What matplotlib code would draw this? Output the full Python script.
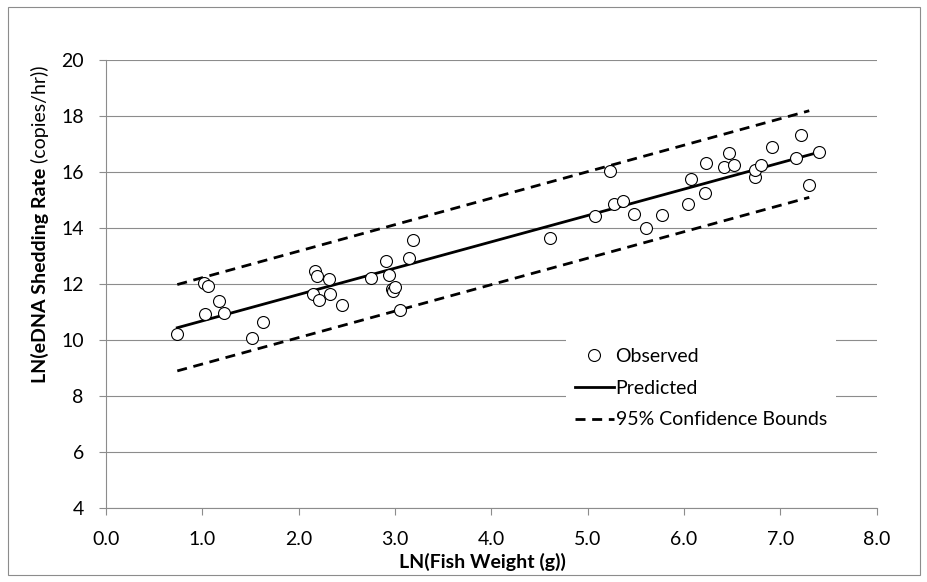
import matplotlib
matplotlib.use("Agg")
import matplotlib.pyplot as plt
from matplotlib.patches import Rectangle

plt.rcParams["font.family"] = ["Lato", "DejaVu Sans"]

# observed fish: ln(weight, g) and ln(eDNA shedding rate, copies/hr)
obs_ln_weight = [0.74, 1.02, 1.06, 1.03, 1.17, 1.22, 1.52, 1.63,
                 2.17, 2.19, 2.31, 2.15, 2.21, 2.33, 2.45, 2.75,
                 2.91, 2.94, 2.97, 2.98, 3.00, 3.05, 3.15, 3.19,
                 4.61, 5.08, 5.23, 5.27, 5.37, 5.48, 5.61, 5.77,
                 6.04, 6.07, 6.22, 6.23, 6.42, 6.47, 6.52, 6.74,
                 6.74, 6.80, 6.91, 7.16, 7.21, 7.30, 7.40]
obs_ln_rate = [10.20, 12.04, 11.94, 10.92, 11.40, 10.95, 10.06, 10.65,
               12.47, 12.28, 12.17, 11.64, 11.43, 11.63, 11.25, 12.22,
               12.82, 12.33, 11.83, 11.76, 11.88, 11.09, 12.94, 13.57,
               13.63, 14.43, 16.02, 14.87, 14.97, 14.48, 14.01, 14.46,
               14.84, 15.74, 15.25, 16.30, 16.18, 16.66, 16.26, 15.82,
               16.06, 16.26, 16.89, 16.51, 17.31, 15.53, 16.71]

# regression line and 95% bounds, end points
pred_x = [0.74, 7.40]
pred_y = [10.44, 16.70]
bound_x = [0.74, 7.30]
upper_y = [11.98, 18.18]
lower_y = [8.90, 15.09]

x_ticks = [0.0, 1.0, 2.0, 3.0, 4.0, 5.0, 6.0, 7.0, 8.0]
y_ticks = [4, 6, 8, 10, 12, 14, 16, 18, 20]

FS = 14
GREY = "#8c8c8c"

fig = plt.figure(figsize=(9.28, 5.82), dpi=100)
ax = fig.add_axes([106 / 928, 1 - 508.3 / 582, 770.7 / 928, 448.6 / 582])

# thin frame round the whole chart
fig.patches.append(Rectangle((8 / 928, 7 / 582), 912 / 928, 568 / 582,
                             transform=fig.transFigure, fill=False,
                             edgecolor=GREY, lw=0.8))

ax.plot(bound_x, upper_y, color="black", lw=2.0, dashes=(3.6, 2.4),
        label="95% Confidence Bounds", zorder=3)
ax.plot(bound_x, lower_y, color="black", lw=2.0, dashes=(3.6, 2.4), zorder=3)
ax.plot(pred_x, pred_y, color="black", lw=2.0, label="Predicted", zorder=3)
ax.plot(obs_ln_weight, obs_ln_rate, "o", ls="none", ms=8.6, mfc="white",
        mec="black", mew=0.8, label="Observed", zorder=4)

ax.set_xlim(0, 8)
ax.set_ylim(4, 20)
ax.set_xticks(x_ticks)
ax.set_xticklabels([f"{v:.1f}" for v in x_ticks])
ax.set_yticks(y_ticks)
ax.set_yticklabels([str(v) for v in y_ticks])
ax.tick_params(axis="both", direction="out", length=5, width=0.8,
               color=GREY, labelsize=FS, pad=11)
ax.yaxis.grid(True, color=GREY, lw=0.8)
ax.set_axisbelow(True)
for side in ("top", "right"):
    ax.spines[side].set_visible(False)
for side in ("left", "bottom"):
    ax.spines[side].set_color(GREY)
    ax.spines[side].set_linewidth(0.8)

handles, labels = ax.get_legend_handles_labels()
order = [2, 1, 0]
leg = ax.legend([handles[i] for i in order], [labels[i] for i in order],
                loc="upper left", bbox_to_anchor=(566 / 928, 1 - 339 / 582),
                bbox_transform=fig.transFigure, fontsize=FS, frameon=True,
                fancybox=False, edgecolor="none", facecolor="white",
                framealpha=1, handlelength=2.0, handletextpad=0.1,
                labelspacing=0.76, borderpad=0.45, borderaxespad=0)

fig.text(482 / 928, 1 - 562 / 582, "LN(Fish Weight (g))", ha="center",
         va="center", fontsize=FS, fontweight="bold")

# y label: bold quantity, regular units
fig.canvas.draw()
renderer = fig.canvas.get_renderer()
ylab = fig.text(40 / 928, 1 - 383 / 582, "LN(eDNA Shedding Rate", rotation=90,
                ha="center", va="bottom", fontsize=FS, fontweight="bold")
bb = ylab.get_window_extent(renderer)
fig.text(40 / 928, bb.y1 / fig.bbox.height, " (copies/hr))", rotation=90,
         ha="center", va="bottom", fontsize=FS)

fig.savefig("out.png", dpi=100)
